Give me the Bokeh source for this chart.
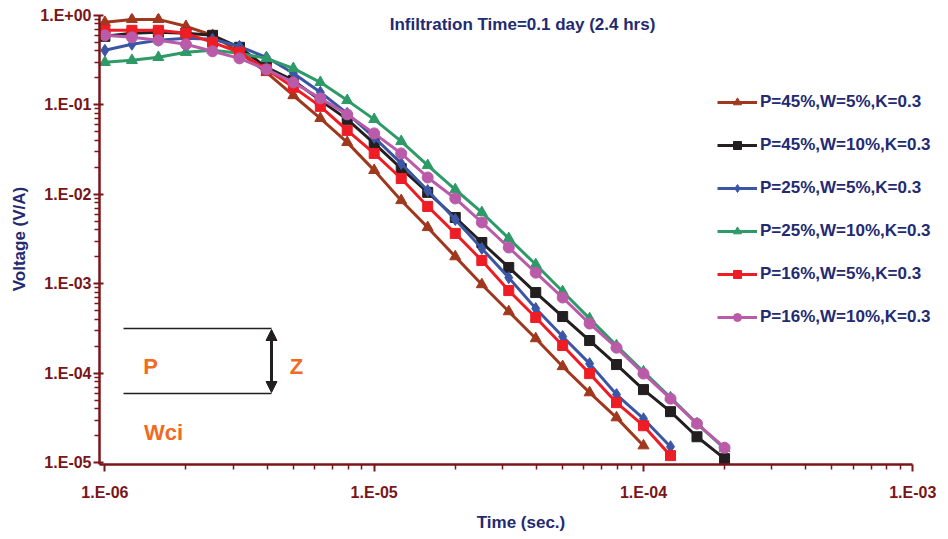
from bokeh.plotting import figure
from bokeh.models import (FixedTicker, CustomJSTickFormatter, Legend, LegendItem,
                          Label, Arrow, NormalHead, Range1d)
from bokeh.embed import file_html
from bokeh.resources import INLINE

# ---------------- data ----------------
time_s = [1.0e-6, 1.26e-6, 1.58e-6, 2.0e-6, 2.51e-6, 3.16e-6, 3.98e-6, 5.01e-6, 6.31e-6, 7.94e-6,
          1.0e-5, 1.26e-5, 1.58e-5, 2.0e-5, 2.51e-5, 3.16e-5, 3.98e-5, 5.01e-5, 6.31e-5, 7.94e-5,
          1.0e-4, 1.26e-4, 1.58e-4, 2.0e-4]

p45_w5 = [0.835, 0.90, 0.90, 0.753, 0.598, 0.386, 0.230, 0.127, 0.0705, 0.0380,
          0.0185, 0.00853, 0.00426, 0.00201, 0.00098, 0.000489, 0.000244, 0.000119, 6.07e-5, 3.19e-5,
          1.55e-5]
p45_w10 = [0.582, 0.629, 0.645, 0.629, 0.597, 0.439, 0.262, 0.1875, 0.112, 0.0687,
           0.0370, 0.0194, 0.0105, 0.00550, 0.00289, 0.00152, 0.000797, 0.000430, 0.000232, 0.000125,
           6.56e-5, 3.72e-5, 1.95e-5, 1.11e-5]
p25_w5 = [0.406, 0.474, 0.525, 0.553, 0.539, 0.450, 0.339, 0.225, 0.138, 0.0801,
          0.0432, 0.0221, 0.0110, 0.00522, 0.00248, 0.00117, 0.000528, 0.000257, 0.000128, 5.77e-5,
          3.10e-5, 1.51e-5]
p25_w10 = [0.298, 0.314, 0.339, 0.386, 0.406, 0.376, 0.330, 0.255, 0.178, 0.112,
           0.0687, 0.0390, 0.0210, 0.0113, 0.00626, 0.00321, 0.00164, 0.000818, 0.000408, 0.000204,
           0.000104, 5.33e-5, 2.73e-5, 1.44e-5]
p16_w5 = [0.679, 0.679, 0.679, 0.629, 0.499, 0.386, 0.249, 0.157, 0.0960, 0.0517,
          0.0286, 0.0150, 0.00731, 0.00365, 0.00182, 0.000839, 0.000419, 0.000204, 9.9e-5, 4.69e-5,
          2.59e-5, 1.20e-5]
p16_w10 = [0.597, 0.567, 0.525, 0.474, 0.396, 0.330, 0.249, 0.178, 0.118, 0.0781,
           0.0479, 0.0286, 0.0154, 0.00897, 0.00484, 0.00254, 0.00133, 0.000701, 0.000359, 0.000193,
           9.9e-5, 5.20e-5, 2.73e-5, 1.47e-5]

series_labels = ["P=45%,W=5%,K=0.3", "P=45%,W=10%,K=0.3", "P=25%,W=5%,K=0.3",
                 "P=25%,W=10%,K=0.3", "P=16%,W=5%,K=0.3", "P=16%,W=10%,K=0.3"]
series_values = [p45_w5, p45_w10, p25_w5, p25_w10, p16_w5, p16_w10]
series_colors = ["#A0381E", "#231F20", "#3B56A5", "#2E9A68", "#EE1D25", "#B95BA8"]
series_markers = ["triangle", "square", "diamond", "triangle", "square", "circle"]
series_msize = [11, 10, 12, 11, 10, 11]

y_major = [1e-5, 1e-4, 1e-3, 1e-2, 1e-1, 1e0]
x_major = [1e-6, 1e-5, 1e-4, 1e-3]
minor_mult = [2, 3, 4, 5, 6, 7, 8, 9]

title_text = "Infiltration Time=0.1 day (2.4 hrs)"
x_title = "Time (sec.)"
y_title = "Voltage (V/A)"

FONT = "Liberation Sans"
NAVY = "#232A72"
AXC = "#7A1518"
ORANGE = "#F26A22"

p = figure(width=944, height=537, x_axis_type="log", y_axis_type="log",
           x_range=Range1d(10 ** -6.02, 10 ** -2.8897),
           y_range=Range1d(10 ** -5.02, 10 ** 0.02),
           output_backend="svg", toolbar_location=None,
           min_border_left=99, min_border_right=2, min_border_top=13, min_border_bottom=73)
p.outline_line_color = None
p.xgrid.visible = False
p.ygrid.visible = False
p.background_fill_color = "white"
p.border_fill_color = "white"

fmt = CustomJSTickFormatter(code="""
const e = Math.round(Math.log10(tick));
const s = e < 0 ? "-" : "+";
const a = Math.abs(e);
return "1.E" + s + (a < 10 ? "0" : "") + a;
""")

y_minor = [m * d for d in y_major[:-1] for m in minor_mult]
x_minor = [m * d for d in x_major[:-1] for m in minor_mult]
p.yaxis.ticker = FixedTicker(ticks=y_major, minor_ticks=y_minor)
p.xaxis.ticker = FixedTicker(ticks=x_major, minor_ticks=x_minor)
p.xaxis.bounds = (10 ** -6.02, 1e-3)
p.yaxis.bounds = (10 ** -5.02, 1.0)

for ax in (p.xaxis[0], p.yaxis[0]):
    ax.formatter = fmt
    ax.axis_line_color = AXC
    ax.axis_line_width = 2.5
    ax.major_tick_line_color = AXC
    ax.minor_tick_line_color = AXC
    ax.major_tick_line_width = 2
    ax.minor_tick_line_width = 1.5
    ax.major_label_text_color = AXC
    ax.major_label_text_font = FONT
    ax.major_label_text_font_style = "bold"
    ax.major_label_text_font_size = "16px"
    ax.axis_label_text_color = NAVY
    ax.axis_label_text_font = FONT
    ax.axis_label_text_font_style = "bold"
    ax.axis_label_text_font_size = "17px"

p.yaxis.axis_label = y_title
p.xaxis.axis_label = x_title
p.yaxis.major_tick_in = 4
p.yaxis.major_tick_out = 6
p.yaxis.minor_tick_in = 0
p.yaxis.minor_tick_out = 5
p.yaxis.major_label_standoff = 2
p.yaxis.axis_label_standoff = 8
p.xaxis.major_tick_in = 0
p.xaxis.major_tick_out = 7
p.xaxis.minor_tick_in = 0
p.xaxis.minor_tick_out = 5
p.xaxis.major_label_standoff = 12
p.xaxis.axis_label_standoff = 9

items = []
for lab, vals, col, mk, ms in zip(series_labels, series_values, series_colors,
                                  series_markers, series_msize):
    xs = time_s[:len(vals)]
    r1 = p.line(xs, vals, line_color=col, line_width=3)
    r2 = p.scatter(xs, vals, marker=mk, size=ms, fill_color=col, line_color=col)
    items.append(LegendItem(label=lab, renderers=[r1, r2]))

legend = Legend(items=items, location=(618, 137), orientation="vertical",
                label_text_font=FONT, label_text_font_style="bold",
                label_text_font_size="17px", label_text_color=NAVY,
                glyph_width=40, glyph_height=20, label_height=20, spacing=23,
                label_standoff=3, padding=0, margin=0,
                border_line_color=None, background_fill_alpha=0)
p.add_layout(legend, "center")

p.add_layout(Label(x=423, y=440, x_units="screen", y_units="screen", text=title_text,
                   text_align="center", text_baseline="middle", text_font=FONT,
                   text_font_style="bold", text_font_size="17px", text_color=NAVY))

# schematic annotation
p.add_layout(Arrow(x_start=24, y_start=136, x_end=172, y_end=136,
                   start_units="screen", end_units="screen", start=None, end=None,
                   line_color="#231F20", line_width=1.5))
p.add_layout(Arrow(x_start=24, y_start=71, x_end=172, y_end=71,
                   start_units="screen", end_units="screen", start=None, end=None,
                   line_color="#231F20", line_width=1.5))
p.add_layout(Arrow(x_start=172, y_start=72, x_end=172, y_end=135,
                   start_units="screen", end_units="screen",
                   start=NormalHead(size=11, fill_color="#231F20", line_color="#231F20"),
                   end=NormalHead(size=11, fill_color="#231F20", line_color="#231F20"),
                   line_color="#231F20", line_width=3))
for t, x, y in (("P", 51, 98), ("Z", 197, 98), ("Wci", 64, 32)):
    p.add_layout(Label(x=x, y=y, x_units="screen", y_units="screen", text=t,
                       text_align="center", text_baseline="middle", text_font=FONT,
                       text_font_style="bold", text_font_size="22px", text_color=ORANGE))

open("out.html", "w").write(file_html(p, INLINE))
